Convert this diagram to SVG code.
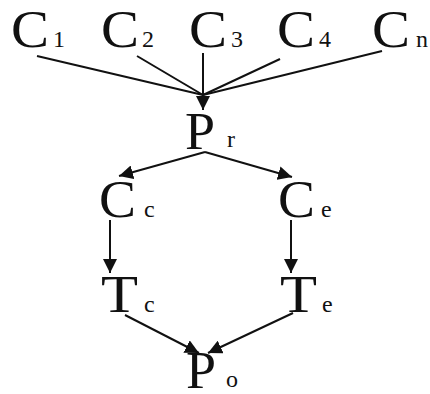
<svg xmlns="http://www.w3.org/2000/svg" width="430" height="394" viewBox="0 0 430 394">
<defs>
<style>
.m{font-family:"Liberation Serif","Times New Roman",serif;font-size:52px;fill:#111}
.s{font-family:"Liberation Serif","Times New Roman",serif;font-size:24px;fill:#111}
.c line{stroke:#111;stroke-width:2;fill:none}
</style>
<marker id="ah2" viewBox="0 0 10 10" refX="10" refY="5" markerWidth="14" markerHeight="14" markerUnits="userSpaceOnUse" orient="auto">
<path d="M0,0 L10,5 L0,10 z" fill="#111"/>
</marker>
</defs>
<rect width="430" height="394" fill="#fff"/>
<g id="C1"><text class="m" x="11" y="47" textLength="38" lengthAdjust="spacingAndGlyphs">C</text><text class="s" x="53" y="47">1</text></g>
<g id="C2"><text class="m" x="101" y="47" textLength="38" lengthAdjust="spacingAndGlyphs">C</text><text class="s" x="142" y="47">2</text></g>
<g id="C3"><text class="m" x="189" y="47" textLength="38" lengthAdjust="spacingAndGlyphs">C</text><text class="s" x="231" y="47">3</text></g>
<g id="C4"><text class="m" x="277" y="47" textLength="38" lengthAdjust="spacingAndGlyphs">C</text><text class="s" x="319" y="47">4</text></g>
<g id="Cn"><text class="m" x="372" y="47" textLength="38" lengthAdjust="spacingAndGlyphs">C</text><text class="s" x="416" y="47">n</text></g>
<g id="Pr"><text class="m" x="185" y="149" textLength="30" lengthAdjust="spacingAndGlyphs">P</text><text class="s" x="227" y="147">r</text></g>
<g id="Cc"><text class="m" x="99" y="217" textLength="37" lengthAdjust="spacingAndGlyphs">C</text><text class="s" x="144" y="217">c</text></g>
<g id="Ce"><text class="m" x="278" y="217" textLength="37" lengthAdjust="spacingAndGlyphs">C</text><text class="s" x="321" y="217">e</text></g>
<g id="Tc"><text class="m" x="101" y="312" textLength="37" lengthAdjust="spacingAndGlyphs">T</text><text class="s" x="144" y="312">c</text></g>
<g id="Te"><text class="m" x="280" y="312" textLength="37" lengthAdjust="spacingAndGlyphs">T</text><text class="s" x="322" y="312">e</text></g>
<g id="Po"><text class="m" x="186" y="388" textLength="30" lengthAdjust="spacingAndGlyphs">P</text><text class="s" x="226" y="387">o</text></g>
<g class="c" id="connectors">
<line x1="37" y1="56" x2="203" y2="95"/>
<line x1="137" y1="56" x2="203" y2="95"/>
<line x1="280" y1="59" x2="203" y2="95"/>
<line x1="382" y1="51" x2="203" y2="95"/>
<line x1="203" y1="53" x2="203" y2="110" marker-end="url(#ah2)"/>
<line x1="205" y1="152" x2="119" y2="176" marker-end="url(#ah2)"/>
<line x1="205" y1="152" x2="292" y2="177" marker-end="url(#ah2)"/>
<line x1="110" y1="220" x2="110" y2="273" marker-end="url(#ah2)"/>
<line x1="291" y1="220" x2="291" y2="273" marker-end="url(#ah2)"/>
<line x1="125" y1="315" x2="199" y2="353" marker-end="url(#ah2)"/>
<line x1="293" y1="313" x2="208" y2="353" marker-end="url(#ah2)"/>
</g>
</svg>
